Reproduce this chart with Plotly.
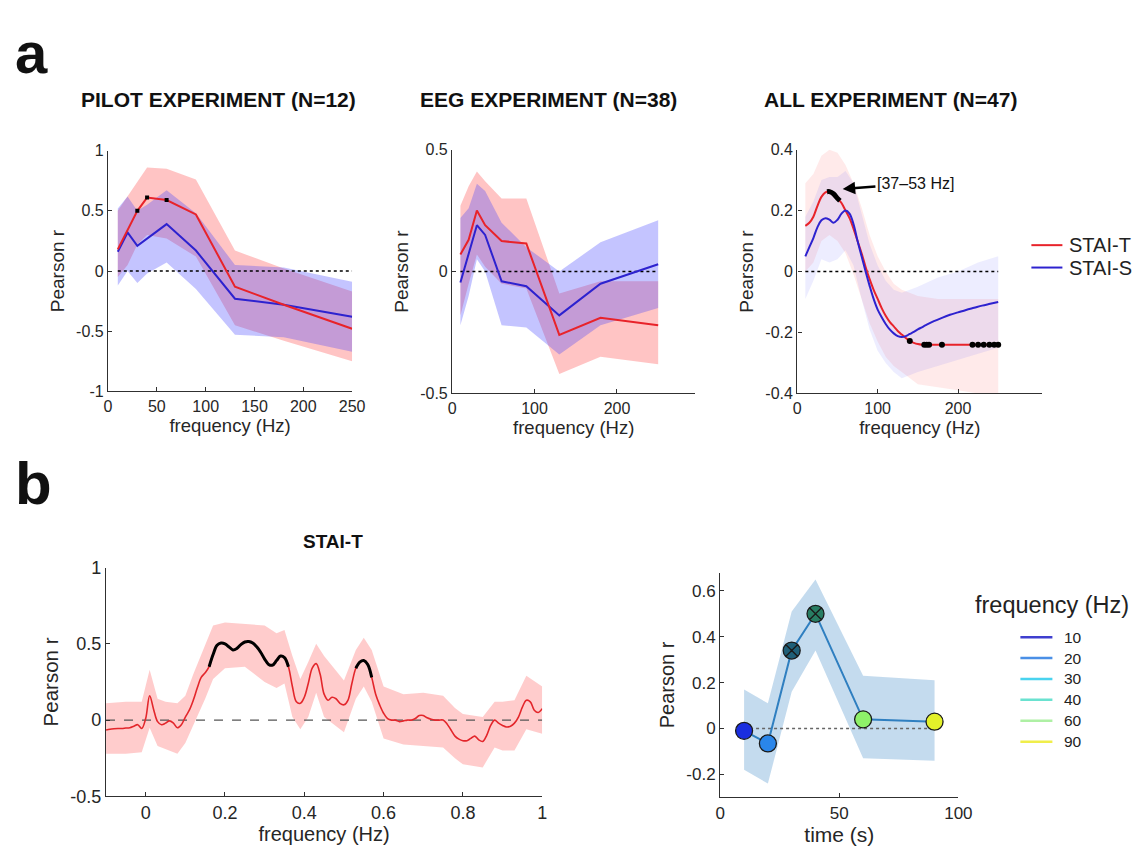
import plotly.graph_objects as go

W, H = 1143, 854
FONT = "Liberation Sans, Arial, Helvetica, sans-serif"
RED = "#e8232a"
BLUE = "#2d22cf"
AXC = "#303030"

# ---------------- panel a data ----------------
a_freq = [10, 20, 30, 40, 60, 90, 130, 180, 250]

pilot_t = [0.18, 0.34, 0.50, 0.61, 0.59, 0.47, -0.13, -0.28, -0.48]
pilot_t_hi = [0.50, 0.62, 0.75, 0.86, 0.85, 0.76, 0.17, 0.02, -0.17]
pilot_t_lo = [-0.05, 0.05, 0.22, 0.30, 0.27, 0.12, -0.45, -0.58, -0.75]
pilot_s = [0.16, 0.32, 0.21, 0.27, 0.39, 0.17, -0.23, -0.28, -0.38]
pilot_s_hi = [0.52, 0.62, 0.50, 0.55, 0.67, 0.48, 0.05, 0.03, -0.09]
pilot_s_lo = [-0.12, 0.00, -0.10, -0.02, 0.07, -0.15, -0.53, -0.55, -0.67]
pilot_sig_f = [30, 40, 60]
pilot_sig_r = [0.50, 0.61, 0.59]

eeg_t = [0.07, 0.13, 0.25, 0.19, 0.125, 0.115, -0.26, -0.19, -0.22]
eeg_t_hi = [0.27, 0.35, 0.41, 0.37, 0.30, 0.30, -0.09, -0.04, -0.04]
eeg_t_lo = [-0.18, -0.05, 0.07, 0.02, -0.05, -0.07, -0.42, -0.35, -0.38]
eeg_s = [-0.045, 0.07, 0.19, 0.15, -0.04, -0.06, -0.18, -0.05, 0.03]
eeg_s_hi = [0.22, 0.26, 0.36, 0.33, 0.20, 0.10, 0.00, 0.12, 0.21]
eeg_s_lo = [-0.22, -0.10, 0.05, 0.00, -0.22, -0.23, -0.34, -0.22, -0.15]

all_freq = [10, 15, 20, 25, 30, 35, 40, 45, 50, 55, 60, 65, 70, 75, 80, 85, 90, 95, 100,
            105, 110, 115, 120, 125, 130, 135, 140, 145, 150, 155, 160, 170, 180, 190,
            200, 210, 220, 230, 240, 250]
all_t = [0.15, 0.16, 0.18, 0.215, 0.245, 0.26, 0.262, 0.255, 0.24, 0.225, 0.20, 0.175,
         0.14, 0.10, 0.06, 0.015, -0.025, -0.06, -0.09, -0.12, -0.145, -0.165, -0.18,
         -0.195, -0.207, -0.218, -0.228, -0.234, -0.238, -0.24, -0.24, -0.24, -0.24,
         -0.24, -0.24, -0.24, -0.24, -0.24, -0.24, -0.24]
all_s = [0.05, 0.08, 0.11, 0.145, 0.168, 0.175, 0.17, 0.16, 0.17, 0.19, 0.20, 0.19,
         0.155, 0.10, 0.05, 0.0, -0.047, -0.09, -0.125, -0.15, -0.172, -0.19, -0.203,
         -0.212, -0.215, -0.212, -0.205, -0.198, -0.19, -0.183, -0.176, -0.163, -0.152,
         -0.142, -0.134, -0.126, -0.119, -0.112, -0.106, -0.10]
all_band_f = [10, 20, 30, 40, 50, 60, 70, 80, 90, 100, 110, 120, 130, 150, 175, 200, 225, 250]
all_t_hi = [0.29, 0.32, 0.38, 0.40, 0.39, 0.35, 0.29, 0.21, 0.12, 0.05, 0.0, -0.04, -0.06,
            -0.08, -0.09, -0.09, -0.09, -0.09]
all_t_lo = [0.0, 0.03, 0.10, 0.12, 0.10, 0.06, -0.01, -0.09, -0.17, -0.23, -0.28, -0.31,
            -0.33, -0.37, -0.38, -0.39, -0.40, -0.40]
all_s_hi = [0.18, 0.23, 0.30, 0.31, 0.31, 0.33, 0.29, 0.19, 0.09, 0.02, -0.03, -0.06, -0.07,
            -0.05, -0.02, 0.0, 0.03, 0.05]
all_s_lo = [-0.09, -0.03, 0.04, 0.03, 0.04, 0.07, 0.02, -0.09, -0.19, -0.26, -0.30, -0.33,
            -0.35, -0.33, -0.31, -0.29, -0.27, -0.25]
all_sig_f = [37, 40, 45, 50, 53]
all_sig_r = [0.262, 0.262, 0.255, 0.24, 0.232]
all_dot_f = [140, 158, 161, 164, 180, 218, 225, 232, 239, 245, 250]
all_dot_r = [-0.228, -0.24, -0.24, -0.24, -0.24, -0.24, -0.24, -0.24, -0.24, -0.24, -0.24]

legend_a_names = ["STAI-T", "STAI-S"]
legend_a_colors = [RED, BLUE]

# ---------------- panel b data ----------------
b1_r = [-0.065, -0.06, -0.057, -0.055, -0.055, -0.052, -0.05, -0.04, -0.03, -0.055,
        0.01, 0.16, 0.07, -0.01, -0.03, -0.02, -0.005, -0.02, -0.05, -0.03,
        0.02, 0.065, 0.13, 0.21, 0.28, 0.31, 0.35, 0.43, 0.49, 0.505,
        0.50, 0.48, 0.46, 0.47, 0.495, 0.512, 0.515, 0.505, 0.48, 0.445,
        0.40, 0.365, 0.36, 0.39, 0.42, 0.41, 0.35, 0.22, 0.12, 0.11,
        0.15, 0.24, 0.34, 0.37, 0.30, 0.17, 0.13, 0.15, 0.14, 0.11,
        0.10, 0.13, 0.24, 0.34, 0.38, 0.39, 0.365, 0.28, 0.17, 0.10,
        0.045, 0.01, 0.0, 0.0, -0.01, -0.005, 0.0, 0.0, 0.01, 0.03,
        0.03, 0.015, 0.005, 0.0, 0.0, 0.0, -0.025, -0.065, -0.105, -0.125,
        -0.135, -0.135, -0.12, -0.105, -0.13, -0.14, -0.10, -0.035, 0.0, -0.02,
        -0.035, -0.045, -0.04, -0.02, 0.02, 0.085, 0.13, 0.12, 0.065, 0.05,
        0.075]
b1_f = [round(-0.1 + 0.01 * i, 2) for i in range(len(b1_r))]
b1_band_f = [-0.1, -0.05, -0.01, 0.01, 0.03, 0.05, 0.08, 0.10, 0.12, 0.15, 0.17, 0.20,
             0.25, 0.30, 0.33, 0.35, 0.37, 0.39, 0.41, 0.43, 0.45, 0.50, 0.53, 0.55,
             0.57, 0.60, 0.65, 0.70, 0.75, 0.78, 0.80, 0.85, 0.88, 0.90, 0.93, 0.96, 1.00]
b1_hi = [0.11, 0.12, 0.12, 0.33, 0.14, 0.12, 0.11, 0.16, 0.30, 0.50, 0.62, 0.64,
         0.63, 0.62, 0.57, 0.59, 0.42, 0.27, 0.38, 0.50, 0.42, 0.26, 0.46, 0.54,
         0.46, 0.22, 0.17, 0.18, 0.16, 0.08, 0.04, 0.02, 0.12, 0.12, 0.13, 0.29, 0.22]
b1_lo = [-0.22, -0.22, -0.21, -0.05, -0.17, -0.19, -0.22, -0.15, -0.03, 0.14, 0.27, 0.34,
         0.35, 0.25, 0.21, 0.24, 0.02, -0.06, 0.02, 0.18, 0.02, -0.08, 0.14, 0.22,
         0.12, -0.12, -0.16, -0.17, -0.18, -0.25, -0.29, -0.31, -0.18, -0.20, -0.20,
         -0.06, -0.09]
b1_sig_ranges = [(0.16, 0.36), (0.53, 0.57)]

b2_time = [10, 20, 30, 40, 60, 90]
b2_r = [-0.01, -0.065, 0.34, 0.50, 0.04, 0.03]
b2_hi = [0.17, 0.11, 0.51, 0.65, 0.23, 0.21]
b2_lo = [-0.18, -0.24, 0.16, 0.34, -0.13, -0.14]
b2_marker_colors = ["#1a2ee0", "#2a86ea", "#1f5f78", "#287d63", "#8ef069", "#e3f12a"]
b2_marker_symbols = ["circle", "circle", "circle-x", "circle-x", "circle", "circle"]
b2_legend_names = ["10", "20", "30", "40", "60", "90"]
b2_legend_colors = ["#3f3fcf", "#4a8fe6", "#49d3ef", "#6ae2d0", "#aef0a4", "#f0ee4a"]

# page calibration (reference pixel -> paper fraction)
KX, OX, KY, OY = 0.983, 13.0, 0.9815, 14.7


def px(x):
    return (x - OX) / KX / W


def py(y):
    return 1 - (y - OY) / KY / H


fig = go.Figure()


def band(xs, hi, lo, color, xa, ya):
    fig.add_trace(go.Scatter(x=list(xs) + list(xs)[::-1], y=list(hi) + list(lo)[::-1],
                             fill="toself", fillcolor=color, line=dict(width=0),
                             mode="lines", hoverinfo="skip", showlegend=False,
                             xaxis=xa, yaxis=ya))


def zero(x0, x1, xa, ya, color="black", dash="dot", width=1.6):
    fig.add_trace(go.Scatter(x=[x0, x1], y=[0, 0], mode="lines",
                             line=dict(color=color, dash=dash, width=width),
                             showlegend=False, hoverinfo="skip", xaxis=xa, yaxis=ya))


RB = "rgba(255,60,60,0.30)"
BB = "rgba(60,60,255,0.30)"

# ---- a1 pilot
band(a_freq, pilot_t_hi, pilot_t_lo, RB, "x", "y")
band(a_freq, pilot_s_hi, pilot_s_lo, BB, "x", "y")
zero(10, 250, "x", "y")
fig.add_trace(go.Scatter(x=a_freq, y=pilot_s, mode="lines", line=dict(color=BLUE, width=2),
                         showlegend=False, xaxis="x", yaxis="y"))
fig.add_trace(go.Scatter(x=a_freq, y=pilot_t, mode="lines", line=dict(color=RED, width=2),
                         showlegend=False, xaxis="x", yaxis="y"))
fig.add_trace(go.Scatter(x=pilot_sig_f, y=pilot_sig_r, mode="markers",
                         marker=dict(color="black", size=4, symbol="square"),
                         showlegend=False, xaxis="x", yaxis="y"))

# ---- a2 EEG
band(a_freq, eeg_t_hi, eeg_t_lo, RB, "x2", "y2")
band(a_freq, eeg_s_hi, eeg_s_lo, BB, "x2", "y2")
zero(10, 250, "x2", "y2")
fig.add_trace(go.Scatter(x=a_freq, y=eeg_s, mode="lines", line=dict(color=BLUE, width=2),
                         showlegend=False, xaxis="x2", yaxis="y2"))
fig.add_trace(go.Scatter(x=a_freq, y=eeg_t, mode="lines", line=dict(color=RED, width=2),
                         showlegend=False, xaxis="x2", yaxis="y2"))

# ---- a3 ALL
band(all_band_f, all_t_hi, all_t_lo, "rgba(255,80,80,0.12)", "x3", "y3")
band(all_band_f, all_s_hi, all_s_lo, "rgba(80,80,255,0.10)", "x3", "y3")
zero(10, 250, "x3", "y3")
fig.add_trace(go.Scatter(x=all_freq, y=all_t, mode="lines", name="STAI-T",
                         line=dict(color=RED, width=2, shape="spline"),
                         showlegend=False, xaxis="x3", yaxis="y3"))
fig.add_trace(go.Scatter(x=all_freq, y=all_s, mode="lines", name="STAI-S",
                         line=dict(color=BLUE, width=2, shape="spline"),
                         showlegend=False, xaxis="x3", yaxis="y3"))
fig.add_trace(go.Scatter(x=all_sig_f, y=all_sig_r, mode="lines",
                         line=dict(color="black", width=5, shape="spline"),
                         showlegend=False, xaxis="x3", yaxis="y3"))
fig.add_trace(go.Scatter(x=all_dot_f, y=all_dot_r, mode="markers",
                         marker=dict(color="black", size=6),
                         showlegend=False, xaxis="x3", yaxis="y3"))

# ---- b1
band(b1_band_f, b1_hi, b1_lo, "rgba(255,110,110,0.35)", "x4", "y4")
zero(-0.1, 1.0, "x4", "y4", color="#555555", dash="dash", width=1.3)
fig.add_trace(go.Scatter(x=b1_f, y=b1_r, mode="lines",
                         line=dict(color="#e3262b", width=1.6, shape="spline"),
                         showlegend=False, xaxis="x4", yaxis="y4"))
for lo_f, hi_f in b1_sig_ranges:
    sx = [f for f in b1_f if lo_f - 1e-9 <= f <= hi_f + 1e-9]
    sy = [r for f, r in zip(b1_f, b1_r) if lo_f - 1e-9 <= f <= hi_f + 1e-9]
    fig.add_trace(go.Scatter(x=sx, y=sy, mode="lines",
                             line=dict(color="black", width=3, shape="spline"),
                             showlegend=False, xaxis="x4", yaxis="y4"))

# ---- b2
band(b2_time, b2_hi, b2_lo, "rgba(100,160,210,0.38)", "x5", "y5")
zero(10, 90, "x5", "y5", color="#666666", dash="dot", width=1.6)
fig.add_trace(go.Scatter(x=b2_time, y=b2_r, mode="lines+markers",
                         line=dict(color="#2f7fc0", width=2),
                         marker=dict(color=b2_marker_colors, symbol=b2_marker_symbols,
                                     size=17, line=dict(color="#1a1a1a", width=1.3)),
                         showlegend=False, xaxis="x5", yaxis="y5"))


def xaxis(l, r, rng, tv, anchor, title, tfs=16, tsize=18.5):
    return dict(domain=[px(l), px(r)], range=rng, anchor=anchor, tickvals=tv,
                showline=True, linecolor=AXC, linewidth=1.4, ticks="inside", ticklen=4,
                tickcolor=AXC, showgrid=False, zeroline=False,
                tickfont=dict(size=tfs, color="#262626", family=FONT),
                title=dict(text=title, font=dict(size=tsize, color="#262626", family=FONT),
                           standoff=4))


def yaxis(t, b, rng, tv, tt, anchor, tfs=16, tsize=19):
    return dict(domain=[py(b), py(t)], range=rng, anchor=anchor, tickvals=tv, ticktext=tt,
                showline=True, linecolor=AXC, linewidth=1.4, ticks="inside", ticklen=4,
                tickcolor=AXC, showgrid=False, zeroline=False,
                tickfont=dict(size=tfs, color="#262626", family=FONT),
                title=dict(text="Pearson r", font=dict(size=tsize, color="#262626", family=FONT),
                           standoff=6))


fig.update_layout(
    width=W, height=H, margin=dict(l=0, r=0, t=0, b=0),
    paper_bgcolor="white", plot_bgcolor="white", showlegend=False,
    font=dict(family=FONT, color="#222222"),
    xaxis=xaxis(108, 352, [0, 250], [0, 50, 100, 150, 200, 250], "y", "frequency (Hz)"),
    yaxis=yaxis(148, 390, [-1, 1], [-1, -0.5, 0, 0.5, 1], ["-1", "-0.5", "0", "0.5", "1"], "x"),
    xaxis2=xaxis(452, 695, [0, 295], [0, 100, 200], "y2", "frequency (Hz)"),
    yaxis2=yaxis(147, 392, [-0.5, 0.5], [-0.5, 0, 0.5], ["-0.5", "0", "0.5"], "x2"),
    xaxis3=xaxis(797, 1042, [0, 305], [0, 100, 200], "y3", "frequency (Hz)"),
    yaxis3=yaxis(147, 392, [-0.4, 0.4], [-0.4, -0.2, 0, 0.2, 0.4],
                 ["-0.4", "-0.2", "0", "0.2", "0.4"], "x3"),
    xaxis4=xaxis(106, 542, [-0.1, 1.0], [0, 0.2, 0.4, 0.6, 0.8, 1.0], "y4", "frequency (Hz)",
                 tfs=18, tsize=20),
    yaxis4=yaxis(567, 797, [-0.5, 1.0], [-0.5, 0, 0.5, 1], ["-0.5", "0", "0.5", "1"], "x4",
                 tfs=18, tsize=20.5),
    xaxis5=xaxis(720, 958, [0, 100], [0, 50, 100], "y5", "time (s)", tfs=17, tsize=21),
    yaxis5=yaxis(572, 798, [-0.3, 0.68], [-0.2, 0, 0.2, 0.4, 0.6],
                 ["-0.2", "0", "0.2", "0.4", "0.6"], "x5", tfs=17, tsize=20),
)

annotations = []


def text(t, x, y, size, xanchor="center", yanchor="middle", color="#111111"):
    annotations.append(dict(text=t, x=px(x), y=py(y), xref="paper", yref="paper",
                            xanchor=xanchor, yanchor=yanchor, showarrow=False,
                            font=dict(size=size, family=FONT, color=color)))


# panel letters (kept fully inside the page)
annotations.append(dict(text="<b>a</b>", x=0.0, y=1.0, xref="paper", yref="paper",
                        xanchor="left", yanchor="top", showarrow=False,
                        font=dict(size=58, family=FONT, color="#111111")))
annotations.append(dict(text="<b>b</b>", x=0.0, y=py(483), xref="paper", yref="paper",
                        xanchor="left", yanchor="middle", showarrow=False,
                        font=dict(size=60, family=FONT, color="#111111")))
text("<b>PILOT EXPERIMENT (N=12)</b>", 218, 97, 21)
text("<b>EEG EXPERIMENT (N=38)</b>", 548, 97, 21)
text("<b>ALL EXPERIMENT (N=47)</b>", 890, 97, 21)
text("<b>STAI-T</b>", 333, 541, 19)
text("frequency (Hz)", 1052, 605, 23.5, color="#222222")

shapes = []
# legend for panel a
for i, (nm, col) in enumerate(zip(legend_a_names, legend_a_colors)):
    yy = 243 + 22.5 * i
    shapes.append(dict(type="line", xref="paper", yref="paper", x0=px(1031), x1=px(1062),
                       y0=py(yy), y1=py(yy), line=dict(color=col, width=2)))
    text(nm, 1067, yy, 20, xanchor="left", color="#222222")
# legend for panel b
for i, (nm, col) in enumerate(zip(b2_legend_names, b2_legend_colors)):
    yy = 637 + 21.0 * i
    shapes.append(dict(type="line", xref="paper", yref="paper", x0=px(1020), x1=px(1052),
                       y0=py(yy), y1=py(yy), line=dict(color=col, width=2.5)))
    text(nm, 1062, yy, 15.5, xanchor="left", color="#222222")

annotations.append(dict(text="[37–53 Hz]", x=54, y=0.27, xref="x3", yref="y3",
                        ax=147, ay=0.29, axref="x3", ayref="y3", showarrow=True,
                        arrowhead=2, arrowsize=1, arrowwidth=2.5, arrowcolor="black",
                        font=dict(size=16, family=FONT, color="#111111"), standoff=2))
fig.update_layout(annotations=annotations, shapes=shapes)

fig.write_html("out.html")
